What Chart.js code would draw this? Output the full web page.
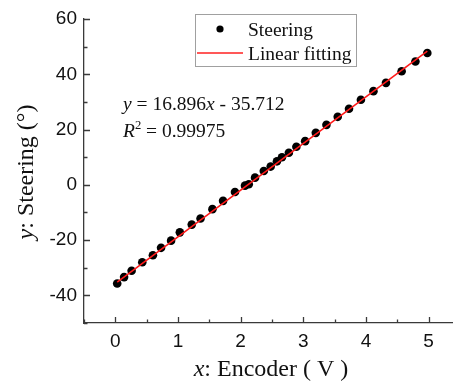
<!DOCTYPE html>
<html>
<head>
<meta charset="utf-8">
<script src="https://cdn.jsdelivr.net/npm/chart.js@4"></script>
<style>
  html, body { margin: 0; padding: 0; background: #fff; overflow: hidden; }
  canvas { display: block; }
</style>
</head>
<body>
<canvas id="chart" width="453" height="383"></canvas>
<script>
// measured points (encoder voltage vs steering angle)
const encoderV = [0.03, 0.14, 0.26, 0.43, 0.60, 0.73, 0.89, 1.03, 1.22, 1.36, 1.55,
  1.72, 1.91, 2.07, 2.13, 2.23, 2.37, 2.48, 2.58, 2.66, 2.77, 2.89, 3.03, 3.20, 3.37,
  3.55, 3.73, 3.92, 4.12, 4.32, 4.57, 4.79, 4.98];
const steeringDeg = [-35.7, -33.4, -31.1, -28.0, -25.5, -22.8, -20.2, -17.2, -14.4, -12.2, -8.8,
  -5.8, -2.6, -0.3, 0.2, 2.6, 5.0, 6.6, 8.5, 10.0, 11.6, 13.8, 15.8, 18.8, 21.7,
  24.6, 27.5, 30.8, 33.9, 36.9, 41.1, 44.6, 47.7];

// fitted line end points
const fitX = [0.03, 4.98];
const fitY = [-35.2, 48.4];

const xTicks = [0, 1, 2, 3, 4, 5];
const yTicks = [-40, -20, 0, 20, 40, 60];
const seriesNames = ['Steering', 'Linear fitting'];
const fitSlope = '16.896';
const fitIntercept = '35.712';
const fitR2 = '0.99975';

const SERIF = '"Liberation Serif", "Times New Roman", serif';
const SANS = '"Liberation Sans", Arial, sans-serif';
const AXIS = '#3a3a3a';

// draws inward ticks, axis titles, legend box and the fit equation
const extras = {
  id: 'extras',
  afterDraw(chart) {
    const ctx = chart.ctx;
    const xs = chart.scales.x, ys = chart.scales.y;
    const area = chart.chartArea;
    ctx.save();
    ctx.strokeStyle = AXIS;
    ctx.lineWidth = 1.3;
    ctx.beginPath();
    for (let v = -0.5; v <= 5.3; v += 0.5) {
      const px = Math.round(xs.getPixelForValue(v)) + 0.5;
      const len = Number.isInteger(v) ? 6 : 3.5;
      ctx.moveTo(px, area.bottom);
      ctx.lineTo(px, area.bottom - len);
    }
    for (let v = -50; v <= 60; v += 10) {
      const py = Math.round(ys.getPixelForValue(v)) + 0.5;
      const len = v % 20 === 0 ? 6 : 3.5;
      ctx.moveTo(area.left, py);
      ctx.lineTo(area.left + len, py);
    }
    ctx.stroke();

    ctx.fillStyle = '#111';
    ctx.textBaseline = 'alphabetic';

    // pieces of mixed italic / regular text
    function runs(parts, x, y, size) {
      let cx = x;
      parts.forEach(p => {
        ctx.font = (p.it ? 'italic ' : '') + (p.sup ? size * 0.65 : size) + 'px ' + SERIF;
        ctx.fillText(p.t, cx, p.sup ? y - size * 0.4 : y);
        cx += ctx.measureText(p.t).width;
      });
      return cx - x;
    }
    function width(parts, size) {
      let w = 0;
      parts.forEach(p => {
        ctx.font = (p.it ? 'italic ' : '') + (p.sup ? size * 0.65 : size) + 'px ' + SERIF;
        w += ctx.measureText(p.t).width;
      });
      return w;
    }

    // x title
    const xt = [{ t: 'x', it: true }, { t: ': Encoder ( V )' }];
    const xw = width(xt, 24);
    runs(xt, 271 - xw / 2, 376, 24);

    // y title
    const yt = [{ t: 'y', it: true }, { t: ': Steering (°)' }];
    const yw = width(yt, 24);
    ctx.save();
    ctx.translate(33, 172);
    ctx.rotate(-Math.PI / 2);
    runs(yt, -yw / 2, 0, 24);
    ctx.restore();

    // legend box
    ctx.strokeStyle = '#a0a0a0';
    ctx.lineWidth = 1;
    ctx.strokeRect(195.5, 14.5, 161, 52);
    ctx.fillStyle = '#000';
    ctx.beginPath();
    ctx.arc(220, 29, 3.6, 0, Math.PI * 2);
    ctx.fill();
    ctx.strokeStyle = '#ff2020';
    ctx.lineWidth = 1.5;
    ctx.beginPath();
    ctx.moveTo(197, 53);
    ctx.lineTo(243, 53);
    ctx.stroke();
    ctx.fillStyle = '#111';
    runs([{ t: seriesNames[0] }], 248, 35.5, 19.5);
    runs([{ t: seriesNames[1] }], 248, 59.5, 19.5);

    // fit equation
    runs([{ t: 'y', it: true }, { t: ' = ' + fitSlope }, { t: 'x', it: true }, { t: ' - ' + fitIntercept }], 123, 110, 19.5);
    runs([{ t: 'R', it: true }, { t: '2', sup: true }, { t: ' = ' + fitR2 }], 123, 137, 19.5);
    ctx.restore();
  }
};

new Chart(document.getElementById('chart'), {
  type: 'scatter',
  data: {
    datasets: [
      {
        label: seriesNames[1],
        data: fitX.map((x, i) => ({ x, y: fitY[i] })),
        showLine: true,
        borderColor: '#ff1a1a',
        borderWidth: 1.6,
        pointRadius: 0,
        order: 0
      },
      {
        label: seriesNames[0],
        data: encoderV.map((x, i) => ({ x, y: steeringDeg[i] })),
        backgroundColor: '#000',
        borderColor: '#000',
        pointRadius: 4.3,
        pointBorderWidth: 0,
        order: 1
      }
    ]
  },
  options: {
    responsive: false,
    animation: false,
    devicePixelRatio: 1,
    layout: { autoPadding: false, padding: { top: 19, right: 0, left: 0, bottom: 0 } },
    plugins: { legend: { display: false }, tooltip: { enabled: false } },
    scales: {
      x: {
        type: 'linear',
        min: -0.5,
        max: 5.39,
        afterBuildTicks: s => { s.ticks = xTicks.map(v => ({ value: v })); },
        afterFit: s => { s.height = 60; s.paddingLeft = 0; s.paddingRight = 0; },
        grid: { display: false, drawTicks: false },
        border: { display: true, color: AXIS, width: 1.3 },
        ticks: { color: '#111', font: { family: SANS, size: 19 }, padding: 7, maxRotation: 0 }
      },
      y: {
        type: 'linear',
        min: -50,
        max: 60,
        afterBuildTicks: s => { s.ticks = yTicks.map(v => ({ value: v })); },
        afterFit: s => { s.width = 84; s.paddingTop = 0; s.paddingBottom = 0; },
        grid: { display: false, drawTicks: false },
        border: { display: true, color: AXIS, width: 1.3 },
        ticks: { color: '#111', font: { family: SANS, size: 19 }, padding: 7 }
      }
    }
  },
  plugins: [extras]
});
</script>
</body>
</html>
